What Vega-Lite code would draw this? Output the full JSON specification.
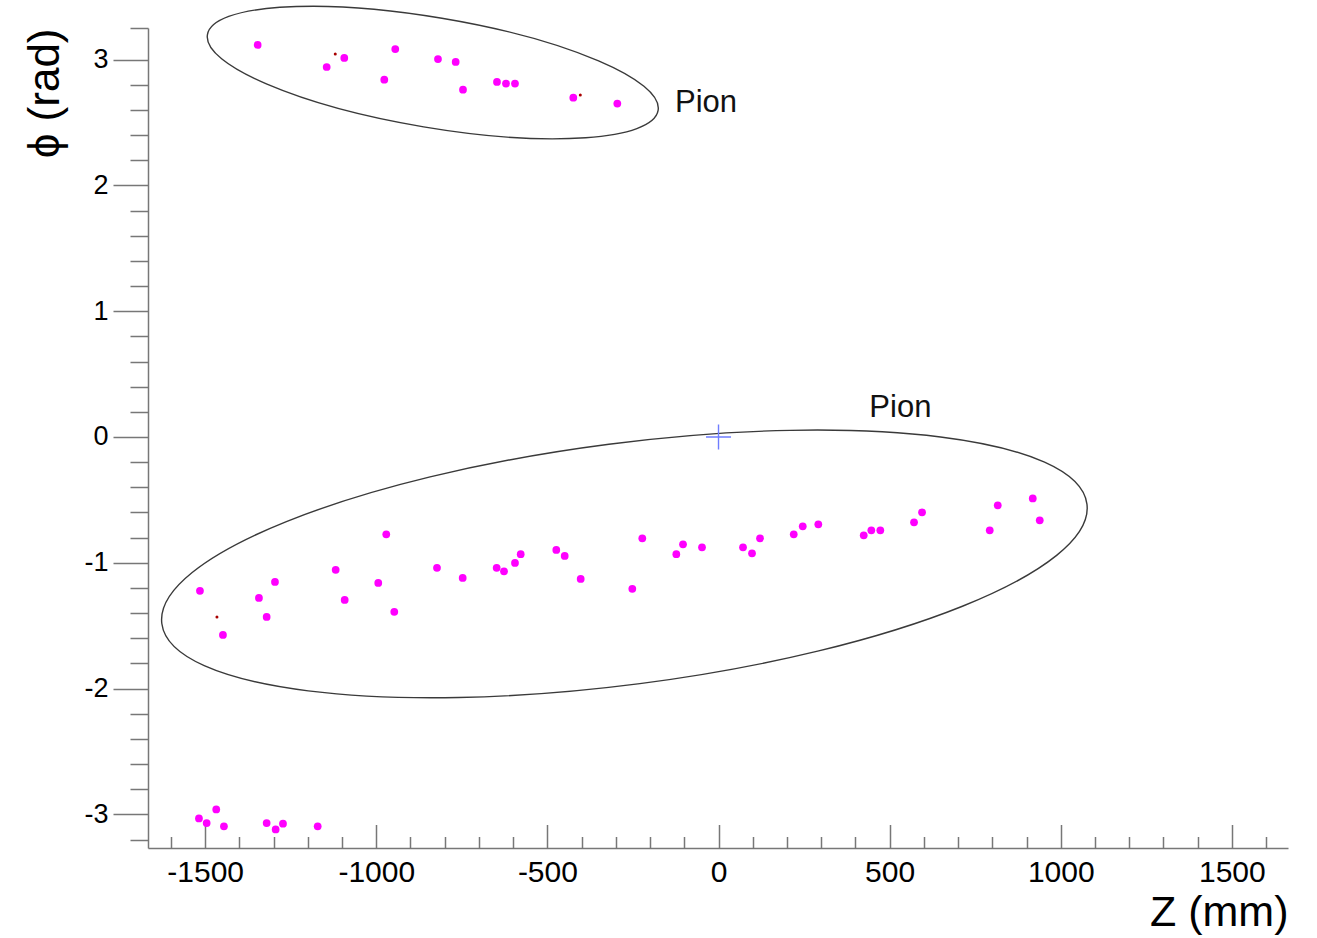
{
  "$schema": "https://vega.github.io/schema/vega-lite/v6.json",
  "width": 1140,
  "height": 820,
  "autosize": "none",
  "padding": {"left": 148, "top": 28, "right": 29, "bottom": 90},
  "background": "white",
  "config": {"view": {"stroke": null}, "font": "Liberation Sans"},
  "datasets": {
    "hits": [
      {"z": -1346.6, "phi": 3.116, "kind": "hit"},
      {"z": -1144.9, "phi": 2.941, "kind": "hit"},
      {"z": -1093.5, "phi": 3.013, "kind": "hit"},
      {"z": -944.5, "phi": 3.084, "kind": "hit"},
      {"z": -976.6, "phi": 2.840, "kind": "hit"},
      {"z": -819.7, "phi": 3.004, "kind": "hit"},
      {"z": -768.0, "phi": 2.981, "kind": "hit"},
      {"z": -746.6, "phi": 2.761, "kind": "hit"},
      {"z": -647.3, "phi": 2.822, "kind": "hit"},
      {"z": -621.0, "phi": 2.809, "kind": "hit"},
      {"z": -594.7, "phi": 2.809, "kind": "hit"},
      {"z": -424.3, "phi": 2.697, "kind": "hit"},
      {"z": -295.7, "phi": 2.650, "kind": "hit"},
      {"z": -1518.1, "phi": -3.032, "kind": "hit"},
      {"z": -1495.6, "phi": -3.069, "kind": "hit"},
      {"z": -1467.6, "phi": -2.960, "kind": "hit"},
      {"z": -1445.1, "phi": -3.095, "kind": "hit"},
      {"z": -1320.3, "phi": -3.069, "kind": "hit"},
      {"z": -1294.0, "phi": -3.119, "kind": "hit"},
      {"z": -1272.6, "phi": -3.074, "kind": "hit"},
      {"z": -1171.2, "phi": -3.095, "kind": "hit"},
      {"z": -1515.2, "phi": -1.223, "kind": "hit"},
      {"z": -1448.0, "phi": -1.573, "kind": "hit"},
      {"z": -1342.8, "phi": -1.279, "kind": "hit"},
      {"z": -1320.3, "phi": -1.430, "kind": "hit"},
      {"z": -1296.0, "phi": -1.152, "kind": "hit"},
      {"z": -1118.6, "phi": -1.056, "kind": "hit"},
      {"z": -1092.3, "phi": -1.295, "kind": "hit"},
      {"z": -994.2, "phi": -1.160, "kind": "hit"},
      {"z": -970.8, "phi": -0.774, "kind": "hit"},
      {"z": -947.4, "phi": -1.390, "kind": "hit"},
      {"z": -822.6, "phi": -1.040, "kind": "hit"},
      {"z": -747.5, "phi": -1.120, "kind": "hit"},
      {"z": -648.2, "phi": -1.040, "kind": "hit"},
      {"z": -626.8, "phi": -1.068, "kind": "hit"},
      {"z": -594.7, "phi": -1.001, "kind": "hit"},
      {"z": -578.0, "phi": -0.932, "kind": "hit"},
      {"z": -474.0, "phi": -0.898, "kind": "hit"},
      {"z": -449.4, "phi": -0.945, "kind": "hit"},
      {"z": -402.7, "phi": -1.128, "kind": "hit"},
      {"z": -251.9, "phi": -1.207, "kind": "hit"},
      {"z": -222.7, "phi": -0.805, "kind": "hit"},
      {"z": -123.3, "phi": -0.932, "kind": "hit"},
      {"z": -103.7, "phi": -0.853, "kind": "hit"},
      {"z": -48.2, "phi": -0.877, "kind": "hit"},
      {"z": 71.6, "phi": -0.877, "kind": "hit"},
      {"z": 97.9, "phi": -0.925, "kind": "hit"},
      {"z": 121.3, "phi": -0.805, "kind": "hit"},
      {"z": 219.8, "phi": -0.774, "kind": "hit"},
      {"z": 246.1, "phi": -0.710, "kind": "hit"},
      {"z": 291.6, "phi": -0.694, "kind": "hit"},
      {"z": 424.3, "phi": -0.782, "kind": "hit"},
      {"z": 446.5, "phi": -0.742, "kind": "hit"},
      {"z": 472.8, "phi": -0.742, "kind": "hit"},
      {"z": 571.3, "phi": -0.678, "kind": "hit"},
      {"z": 594.7, "phi": -0.599, "kind": "hit"},
      {"z": 792.5, "phi": -0.742, "kind": "hit"},
      {"z": 815.9, "phi": -0.543, "kind": "hit"},
      {"z": 918.2, "phi": -0.488, "kind": "hit"},
      {"z": 938.6, "phi": -0.662, "kind": "hit"},
      {"z": -1119.8, "phi": 3.044, "kind": "noise"},
      {"z": -403.9, "phi": 2.719, "kind": "noise"},
      {"z": -1465.5, "phi": -1.430, "kind": "noise"}
    ],
    "ellipses": [
      {"cluster": "top", "z": -834.9, "phi": 2.897},
      {"cluster": "main", "z": -275.0, "phi": -1.009}
    ],
    "labels": [
      {"z": -127.1, "phi": 2.586, "text": "Pion"},
      {"z": 440.7, "phi": 0.159, "text": "Pion"}
    ],
    "vertex": [{"z": 0, "phi": 0}]
  },
  "resolve": {"axis": {"x": "independent", "y": "independent"}},
  "layer": [
    {
      "data": {"name": "ellipses"},
      "transform": [{"filter": "datum.cluster === 'top'"}],
      "mark": {
        "type": "point",
        "shape": "M-1,0C-1,-0.1332,-0.5523,-0.2411,0,-0.2411C0.5523,-0.2411,1,-0.1332,1,0C1,0.1332,0.5523,0.2411,0,0.2411C-0.5523,0.2411,-1,0.1332,-1,0Z",
        "size": 208849,
        "angle": 9.55,
        "filled": false,
        "stroke": "#3a3a3a",
        "color": "#3a3a3a",
        "strokeWidth": 1.4,
        "opacity": 1
      },
      "encoding": {
        "x": {
          "field": "z", "type": "quantitative",
          "scale": {"domain": [-1667, 1664], "nice": false, "zero": false},
          "axis": {
            "orient": "bottom",
            "values": [-1500, -1000, -500, 0, 500, 1000, 1500],
            "labelExpr": "'' + datum.value",
            "tickSize": -23.5,
            "labelPadding": 32.5,
            "labelBaseline": "top",
            "labelFontSize": 30,
            "labelFont": "Liberation Sans",
            "labelColor": "#000000",
            "labelFlush": false,
            "labelOverlap": false,
            "domainColor": "#777777",
            "domainWidth": 1.5,
            "tickColor": "#777777",
            "tickWidth": 1.5,
            "grid": false,
            "title": "Z (mm)",
            "titleFont": "Liberation Sans",
            "titleFontSize": 43,
            "titleFontWeight": "normal",
            "titleColor": "#000000",
            "titleAnchor": "end",
            "titlePadding": 4
          }
        },
        "y": {
          "field": "phi", "type": "quantitative",
          "scale": {"domain": [-3.267, 3.251], "nice": false, "zero": false},
          "axis": {
            "orient": "left",
            "values": [-3, -2, -1, 0, 1, 2, 3],
            "labelExpr": "'' + datum.value",
            "tickSize": 35,
            "labelPadding": 5,
            "labelFontSize": 27,
            "labelFont": "Liberation Sans",
            "labelColor": "#000000",
            "labelFlush": false,
            "labelOverlap": false,
            "domainColor": "#777777",
            "domainWidth": 1.5,
            "tickColor": "#777777",
            "tickWidth": 1.5,
            "grid": false,
            "title": "ϕ (rad)",
            "titleFont": "Liberation Sans",
            "titleFontSize": 44,
            "titleFontWeight": "normal",
            "titleColor": "#000000",
            "titleAnchor": "end",
            "titlePadding": 16
          }
        }
      }
    },
    {
      "data": {"name": "ellipses"},
      "transform": [{"filter": "datum.cluster === 'main'"}],
      "mark": {
        "type": "point",
        "shape": "M-1,0C-1,-0.1429,-0.5523,-0.2588,0,-0.2588C0.5523,-0.2588,1,-0.1429,1,0C1,0.1429,0.5523,0.2588,0,0.2588C-0.5523,0.2588,-1,0.1429,-1,0Z",
        "size": 870116,
        "angle": 352.63,
        "filled": false,
        "stroke": "#3a3a3a",
        "color": "#3a3a3a",
        "strokeWidth": 1.4,
        "opacity": 1
      },
      "encoding": {
        "x": {
          "field": "z", "type": "quantitative",
          "axis": {
            "orient": "bottom",
            "values": [-1600, -1400, -1300, -1200, -1100, -900, -800, -700, -600, -400, -300, -200, -100, 100, 200, 300, 400, 600, 700, 800, 900, 1100, 1200, 1300, 1400, 1600],
            "tickSize": -11.5,
            "labels": false,
            "domain": false,
            "grid": false,
            "tickColor": "#777777",
            "tickWidth": 1.5,
            "title": null
          }
        },
        "y": {
          "field": "phi", "type": "quantitative",
          "axis": {
            "orient": "left",
            "values": [-3.2, -2.8, -2.6, -2.4, -2.2, -1.8, -1.6, -1.4, -1.2, -0.8, -0.6, -0.4, -0.2, 0.2, 0.4, 0.6, 0.8, 1.2, 1.4, 1.6, 1.8, 2.2, 2.4, 2.6, 2.8, 3.25],
            "tickSize": 18,
            "labels": false,
            "domain": false,
            "grid": false,
            "tickColor": "#777777",
            "tickWidth": 1.5,
            "title": null
          }
        }
      }
    },
    {
      "data": {"name": "vertex"},
      "mark": {
        "type": "point",
        "shape": "M-1,0L1,0M0,-1L0,1",
        "size": 625,
        "filled": false,
        "stroke": "#6f7dff",
        "color": "#6f7dff",
        "strokeWidth": 1.4,
        "opacity": 1
      },
      "encoding": {
        "x": {"field": "z", "type": "quantitative", "axis": null},
        "y": {"field": "phi", "type": "quantitative", "axis": null}
      }
    },
    {
      "data": {"name": "hits"},
      "transform": [{"filter": "datum.kind === 'hit'"}],
      "mark": {"type": "point", "shape": "circle", "filled": true, "color": "#ff00ff", "size": 60, "opacity": 1, "strokeWidth": 0},
      "encoding": {
        "x": {"field": "z", "type": "quantitative", "axis": null},
        "y": {"field": "phi", "type": "quantitative", "axis": null}
      }
    },
    {
      "data": {"name": "hits"},
      "transform": [{"filter": "datum.kind === 'noise'"}],
      "mark": {"type": "point", "shape": "circle", "filled": true, "color": "#a80000", "size": 9, "opacity": 1, "strokeWidth": 0},
      "encoding": {
        "x": {"field": "z", "type": "quantitative", "axis": null},
        "y": {"field": "phi", "type": "quantitative", "axis": null}
      }
    },
    {
      "data": {"name": "labels"},
      "mark": {"type": "text", "align": "left", "baseline": "alphabetic", "font": "Liberation Sans", "fontSize": 31, "color": "#111111"},
      "encoding": {
        "x": {"field": "z", "type": "quantitative", "axis": null},
        "y": {"field": "phi", "type": "quantitative", "axis": null},
        "text": {"field": "text"}
      }
    }
  ]
}
